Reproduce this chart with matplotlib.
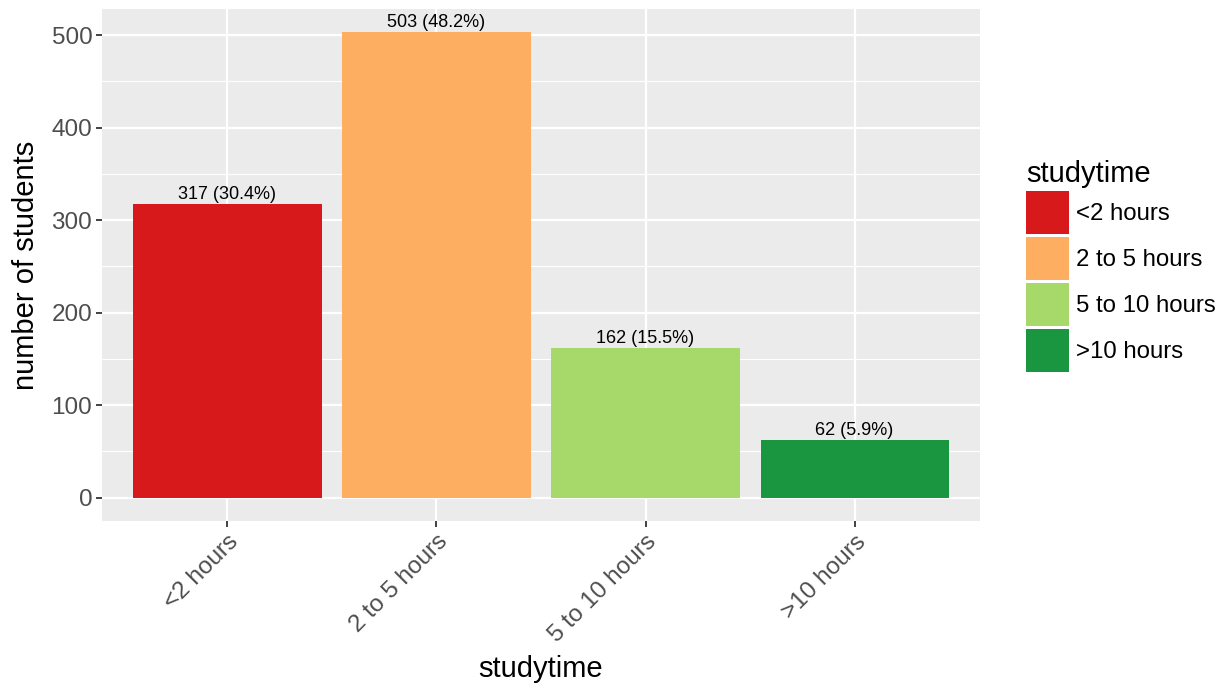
import matplotlib
matplotlib.use("Agg")
import matplotlib.pyplot as plt
from matplotlib.patches import Patch
import numpy as np

plt.rcParams['font.family'] = ['Liberation Sans', 'DejaVu Sans']

# data
categories = ["<2 hours", "2 to 5 hours", "5 to 10 hours", ">10 hours"]
counts = [317, 503, 162, 62]
percents = [30.4, 48.2, 15.5, 5.9]
colors = ["#D7191C", "#FDAE61", "#A6D96A", "#1A9641"]

fig = plt.figure(figsize=(12.25, 6.89), dpi=100)
ax = fig.add_axes([102/1225, 1 - 521/689, (980-102)/1225, (521-9)/689])

x = np.arange(len(categories))
ax.set_facecolor("#EBEBEB")
ax.bar(x, counts, width=0.9, color=colors, zorder=3)

for xi, c, p in zip(x, counts, percents):
    ax.text(xi, c + 1, "%d (%.1f%%)" % (c, p), ha="center", va="bottom",
            fontsize=13, color="black", zorder=4)

# ggplot-like expansion
top = max(counts)
ax.set_xlim(-0.6, len(categories) - 0.4)
ax.set_ylim(-0.05 * top, 1.05 * top)

ax.set_yticks([0, 100, 200, 300, 400, 500])
ax.set_yticks([50, 150, 250, 350, 450], minor=True)
ax.set_xticks(x)
ax.set_xticklabels(categories, rotation=45, ha="right", va="top",
                   rotation_mode="anchor")

ax.grid(True, which="major", color="white", linewidth=1.6, zorder=0)
ax.grid(True, which="minor", axis="y", color="white", linewidth=0.8, zorder=0)
ax.set_axisbelow(True)

for s in ax.spines.values():
    s.set_visible(False)

ax.tick_params(axis="both", which="major", length=4, width=1.3, color="#333333",
               labelsize=17.5, labelcolor="#4D4D4D", pad=3)
ax.tick_params(axis="y", which="minor", length=0)

ax.set_xlabel("studytime", fontsize=21, color="black", labelpad=6)
ax.set_ylabel("number of students", fontsize=21, color="black", labelpad=8)

# legend keys ~43px square, small gap between them
handles = [Patch(facecolor=c, edgecolor="none") for c in colors]
leg = fig.legend(handles, categories, title="studytime", loc="center left",
                 bbox_to_anchor=(1026/1225, 1 - 266/689), frameon=False,
                 fontsize=17.3, title_fontsize=21, handlelength=1.8,
                 handleheight=2.376, labelspacing=0.13, handletextpad=0.3,
                 alignment="left", borderaxespad=0, borderpad=0)

fig.savefig("out.png", dpi=100)
